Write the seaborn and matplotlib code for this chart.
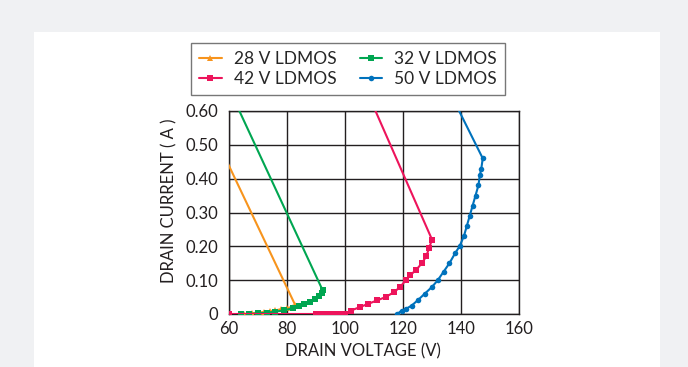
import matplotlib
matplotlib.use("Agg")
import matplotlib.pyplot as plt
from matplotlib.patches import Rectangle
import seaborn as sns
import pandas as pd

# series (drain voltage in V, drain current in A)
v28 = [65, 68, 70, 72, 74, 76, 78, 80, 82, 82.8, 58]
i28 = [0.0, 0.002, 0.004, 0.006, 0.008, 0.011, 0.014, 0.017, 0.022, 0.027, 0.474]

v32 = [64, 67, 70, 73, 76, 79, 82, 84, 86, 88, 89.5, 91, 92, 92.3, 62.5]
i32 = [0.0, 0.0, 0.002, 0.004, 0.007, 0.011, 0.017, 0.023, 0.029, 0.036, 0.043, 0.052, 0.062, 0.07, 0.62]

v42 = [60, 90, 92, 94, 96, 98, 100, 102, 105, 108, 111, 114, 117, 119, 121, 122.5, 124.5,
       126.5, 128, 129, 130, 109.5]
i42 = [0.0, 0.0, 0.0, 0.0, 0.0, 0.0, 0.0, 0.01, 0.02, 0.03, 0.04, 0.05, 0.065, 0.08, 0.1, 0.115,
       0.13, 0.15, 0.17, 0.195, 0.22, 0.62]

v50 = [118, 119.5, 121, 123, 125, 127.5, 130, 132, 134, 136, 138, 139.5, 141, 142, 143,
       144, 145, 146, 146.5, 147, 147.5, 138.2]
i50 = [0.0, 0.01, 0.015, 0.025, 0.04, 0.06, 0.08, 0.1, 0.125, 0.15, 0.18, 0.2, 0.23, 0.26,
       0.29, 0.32, 0.35, 0.38, 0.41, 0.43, 0.46, 0.62]

names = ["28 V LDMOS", "32 V LDMOS", "42 V LDMOS", "50 V LDMOS"]
colors = ["#f7941d", "#00a651", "#ed145b", "#0072bc"]
marks = ["^", "s", "s", "o"]

xticks = [60, 80, 100, 120, 140, 160]
yticks = [0, 0.1, 0.2, 0.3, 0.4, 0.5, 0.6]
ylabels = ["0", "0.10", "0.20", "0.30", "0.40", "0.50", "0.60"]

sns.set_style("white")
plt.rcParams["font.family"] = ["Lato", "DejaVu Sans"]

fig = plt.figure(figsize=(6.88, 3.67), dpi=100)
fig.patch.set_facecolor("#f0f1f3")
fig.patches.append(Rectangle((34 / 688, 0), 626 / 688, 1 - 32 / 367,
                             transform=fig.transFigure, facecolor="white",
                             edgecolor="none", zorder=-5))

ax = fig.add_axes([229 / 688, 1 - 314 / 367, 290 / 688, 203 / 367])
ax.set_zorder(2)

series = [(v28, i28), (v32, i32), (v42, i42), (v50, i50)]
for (v, i), name, c, m in zip(series, names, colors, marks):
    df = pd.DataFrame({"v": v, "i": i})
    sns.lineplot(data=df, x="v", y="i", sort=False, estimator=None, ax=ax,
                 color=c, marker=m, markersize=4, markeredgewidth=0,
                 linewidth=1.5, label=name, zorder=3)

ax.set_xlim(60, 160)
ax.set_ylim(0, 0.6)
ax.set_xticks(xticks)
ax.set_yticks(yticks)
ax.set_yticklabels(ylabels)
ax.tick_params(axis="both", length=0, labelsize=12, colors="#231f20")
ax.tick_params(axis="x", pad=5)
ax.tick_params(axis="y", pad=8)
ax.grid(True, color="#231f20", linewidth=1)
for s in ax.spines.values():
    s.set_color("#231f20")
    s.set_linewidth(1)
ax.set_xlabel("DRAIN VOLTAGE (V)", fontsize=12, color="#231f20")
ax.set_ylabel("DRAIN CURRENT ( A )", fontsize=12, color="#231f20")
ax.xaxis.set_label_coords(0.462, -0.145)
ax.yaxis.set_label_coords(-0.178, 0.56)

h, l = ax.get_legend_handles_labels()
ax.get_legend().remove()
order = [0, 2, 1, 3]
fig.legend([h[k] for k in order], [l[k] for k in order], ncol=2,
           loc="center", bbox_to_anchor=(348 / 688, 1 - 69 / 367),
           fontsize=12.5, frameon=True, fancybox=False, edgecolor="#555555",
           handlelength=1.3, columnspacing=1.35, labelspacing=0.25,
           borderpad=0.45, handletextpad=0.7)

fig.savefig("out.png", dpi=100, facecolor=fig.get_facecolor())
